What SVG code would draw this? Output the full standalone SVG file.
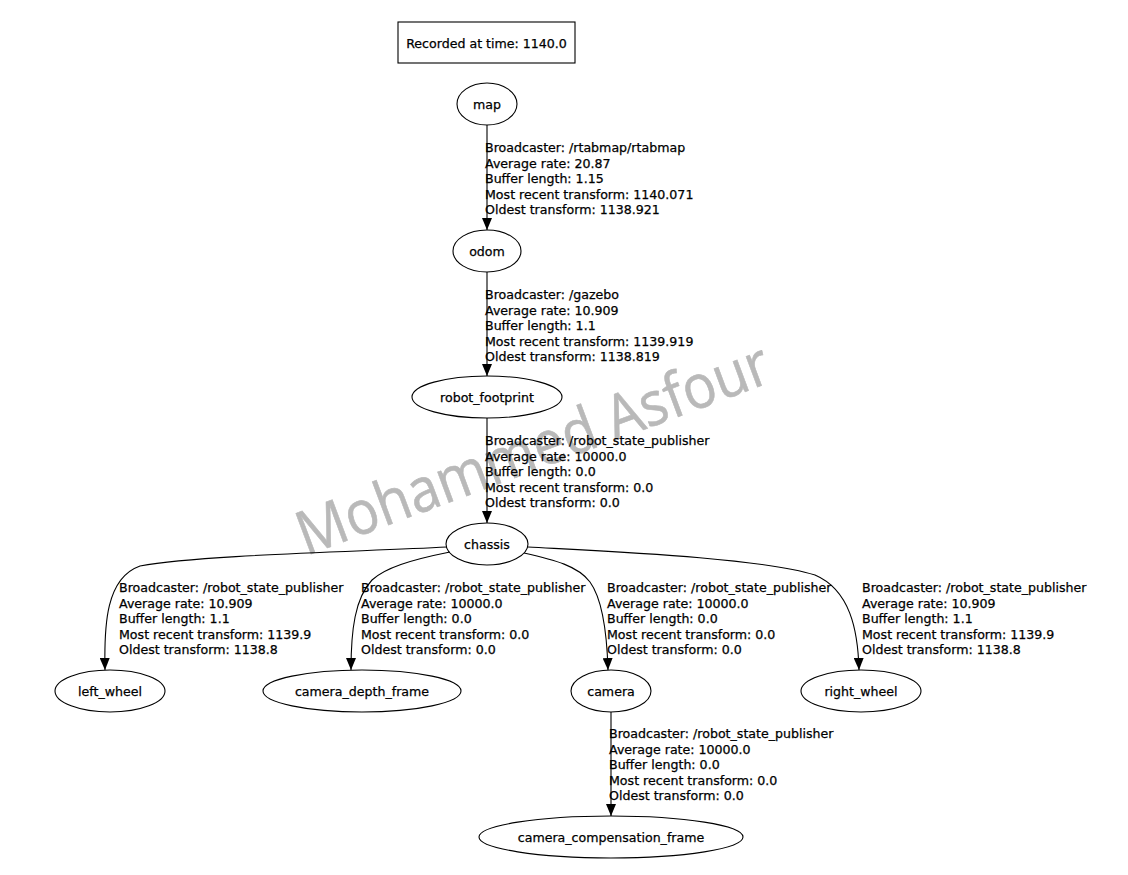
<svg xmlns="http://www.w3.org/2000/svg" width="1128" height="875" viewBox="0 0 1128 875">
  <style>
    text { font-family: "DejaVu Sans", Verdana, sans-serif; font-size: 12.6px; fill: #000; stroke: #000; stroke-width: 0.25; }
    .node ellipse, .node rect { fill: none; stroke: #000; stroke-width: 1.1; }
    .node text { text-anchor: middle; }
    .edge { fill: none; stroke: #000; stroke-width: 1.1; }
    .mark { font-family: "Open Sans", "DejaVu Sans", sans-serif; font-size: 61px; fill: #b9b9b9; stroke: #b9b9b9; stroke-width: 0.6; }
  </style>
  <defs>
    <marker id="arrow" viewBox="0 0 12 10" refX="12" refY="5" markerWidth="12" markerHeight="10" markerUnits="userSpaceOnUse" orient="auto">
      <path d="M0,0 L12,5 L0,10 z" fill="#000"/>
    </marker>
  </defs>
  <rect width="1128" height="875" fill="#fff"/>

  <!-- watermark -->
  <text class="mark" x="306" y="556" transform="rotate(-20.5 306 556)" textLength="500" lengthAdjust="spacingAndGlyphs">Mohammed Asfour</text>

  <!-- connectors -->
  <g id="edges">
    <path class="edge" d="M487,125 L487,230" marker-end="url(#arrow)"/>
    <path class="edge" d="M487,272 L487,376" marker-end="url(#arrow)"/>
    <path class="edge" d="M487,418 L487,523" marker-end="url(#arrow)"/>
    <path class="edge" d="M447,547 C350,552 200,555 140,566 C106,578 104,625 105,670" marker-end="url(#arrow)"/>
    <path class="edge" d="M450,552 C410,560 385,568 372,580 C355,598 351,630 351,670" marker-end="url(#arrow)"/>
    <path class="edge" d="M524,553 C555,560 578,566 590,582 C603,600 607,635 608,670" marker-end="url(#arrow)"/>
    <path class="edge" d="M528,547 C620,552 760,558 815,575 C850,590 858,630 859,670" marker-end="url(#arrow)"/>
    <path class="edge" d="M611,712 L611,816" marker-end="url(#arrow)"/>
  </g>

  <!-- edge labels -->
  <g id="edge-labels">
    <text x="485" y="152">Broadcaster: /rtabmap/rtabmap</text>
    <text x="485" y="167.5">Average rate: 20.87</text>
    <text x="485" y="183">Buffer length: 1.15</text>
    <text x="485" y="198.5">Most recent transform: 1140.071</text>
    <text x="485" y="214">Oldest transform: 1138.921</text>

    <text x="485" y="299">Broadcaster: /gazebo</text>
    <text x="485" y="314.5">Average rate: 10.909</text>
    <text x="485" y="330">Buffer length: 1.1</text>
    <text x="485" y="345.5">Most recent transform: 1139.919</text>
    <text x="485" y="361">Oldest transform: 1138.819</text>

    <text x="485" y="445">Broadcaster: /robot_state_publisher</text>
    <text x="485" y="460.5">Average rate: 10000.0</text>
    <text x="485" y="476">Buffer length: 0.0</text>
    <text x="485" y="491.5">Most recent transform: 0.0</text>
    <text x="485" y="507">Oldest transform: 0.0</text>

    <text x="119" y="592">Broadcaster: /robot_state_publisher</text>
    <text x="119" y="607.5">Average rate: 10.909</text>
    <text x="119" y="623">Buffer length: 1.1</text>
    <text x="119" y="638.5">Most recent transform: 1139.9</text>
    <text x="119" y="654">Oldest transform: 1138.8</text>

    <text x="361" y="592">Broadcaster: /robot_state_publisher</text>
    <text x="361" y="607.5">Average rate: 10000.0</text>
    <text x="361" y="623">Buffer length: 0.0</text>
    <text x="361" y="638.5">Most recent transform: 0.0</text>
    <text x="361" y="654">Oldest transform: 0.0</text>

    <text x="607" y="592">Broadcaster: /robot_state_publisher</text>
    <text x="607" y="607.5">Average rate: 10000.0</text>
    <text x="607" y="623">Buffer length: 0.0</text>
    <text x="607" y="638.5">Most recent transform: 0.0</text>
    <text x="607" y="654">Oldest transform: 0.0</text>

    <text x="862" y="592">Broadcaster: /robot_state_publisher</text>
    <text x="862" y="607.5">Average rate: 10.909</text>
    <text x="862" y="623">Buffer length: 1.1</text>
    <text x="862" y="638.5">Most recent transform: 1139.9</text>
    <text x="862" y="654">Oldest transform: 1138.8</text>

    <text x="609" y="738">Broadcaster: /robot_state_publisher</text>
    <text x="609" y="753.5">Average rate: 10000.0</text>
    <text x="609" y="769">Buffer length: 0.0</text>
    <text x="609" y="784.5">Most recent transform: 0.0</text>
    <text x="609" y="800">Oldest transform: 0.0</text>
  </g>

  <!-- nodes -->
  <g id="recorded" class="node">
    <rect x="398" y="22" width="177" height="41"/>
    <text x="486.5" y="47.5">Recorded at time: 1140.0</text>
  </g>
  <g id="map" class="node">
    <ellipse cx="487" cy="104" rx="30" ry="21"/>
    <text x="487" y="108.5">map</text>
  </g>
  <g id="odom" class="node">
    <ellipse cx="487" cy="251" rx="34" ry="21"/>
    <text x="487" y="255.5">odom</text>
  </g>
  <g id="robot_footprint" class="node">
    <ellipse cx="487" cy="397" rx="75" ry="21"/>
    <text x="487" y="401.5">robot_footprint</text>
  </g>
  <g id="chassis" class="node">
    <ellipse cx="487" cy="544" rx="41" ry="21"/>
    <text x="487" y="548.5">chassis</text>
  </g>
  <g id="left_wheel" class="node">
    <ellipse cx="110" cy="691" rx="55" ry="21"/>
    <text x="110" y="695.5">left_wheel</text>
  </g>
  <g id="camera_depth_frame" class="node">
    <ellipse cx="362" cy="691" rx="99" ry="21"/>
    <text x="362" y="695.5">camera_depth_frame</text>
  </g>
  <g id="camera" class="node">
    <ellipse cx="611" cy="691" rx="40" ry="21"/>
    <text x="611" y="695.5">camera</text>
  </g>
  <g id="right_wheel" class="node">
    <ellipse cx="861" cy="691" rx="60" ry="21"/>
    <text x="861" y="695.5">right_wheel</text>
  </g>
  <g id="camera_compensation_frame" class="node">
    <ellipse cx="611" cy="837" rx="132" ry="21"/>
    <text x="611" y="841.5">camera_compensation_frame</text>
  </g>
</svg>
